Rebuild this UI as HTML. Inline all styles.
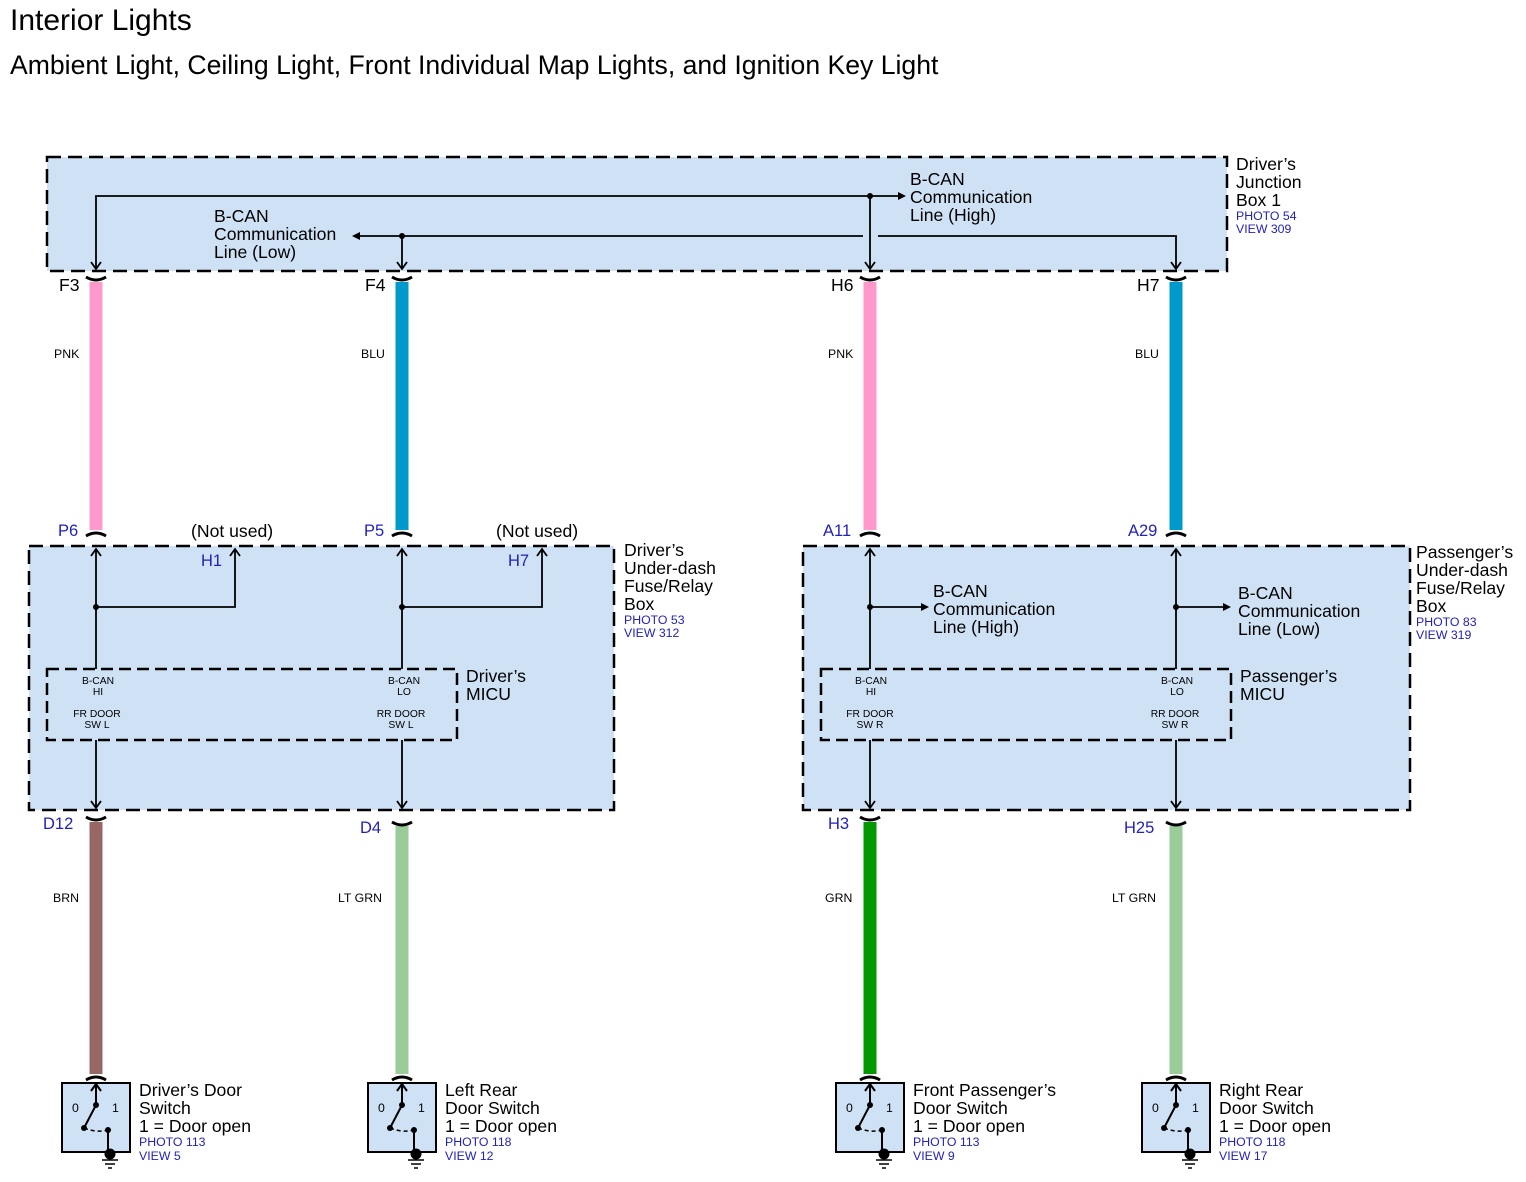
<!DOCTYPE html>
<html><head><meta charset="utf-8"><style>
html,body{margin:0;padding:0;background:#fff;}
svg{display:block;font-family:"Liberation Sans",Arial,sans-serif;}
.t{font-size:17.6px;fill:#000;}
.s{font-size:12.3px;fill:#2222bb;}
.c{font-size:16.5px;fill:#2222bb;}
.w{font-size:12.3px;fill:#000;}
.m{font-size:10.3px;fill:#000;}
</style></head><body>
<svg width="1526" height="1182" viewBox="0 0 1526 1182" xmlns="http://www.w3.org/2000/svg">
<defs>
<g id="sw">
<rect x="-34" y="0" width="68" height="69" fill="#cfe2f5" stroke="#000" stroke-width="2"/>
<line x1="0" y1="22" x2="0" y2="2" stroke="#000" stroke-width="2"/>
<path d="M-5,8 L0,1 L5,8" fill="none" stroke="#000" stroke-width="2"/>
<circle cx="0" cy="22" r="3"/>
<line x1="0" y1="22" x2="-12" y2="45" stroke="#000" stroke-width="2"/>
<circle cx="-12" cy="45" r="3"/>
<path d="M-12,45 Q0,50 12,47" fill="none" stroke="#000" stroke-width="1.5" stroke-dasharray="4,3"/>
<circle cx="12" cy="47" r="3"/>
<line x1="12" y1="47" x2="12" y2="69" stroke="#000" stroke-width="2"/>
<circle cx="14" cy="71" r="5.5"/>
<line x1="6" y1="77" x2="22" y2="77" stroke="#000" stroke-width="1.5"/>
<line x1="9" y1="81" x2="19" y2="81" stroke="#000" stroke-width="1.5"/>
<line x1="12" y1="85" x2="16" y2="85" stroke="#000" stroke-width="1.5"/>
<text x="-24" y="29" class="w" font-size="13">0</text>
<text x="16" y="29" class="w" font-size="13">1</text>
</g>
</defs>

<text x="10" y="30" style="font-size:30px">Interior Lights</text>
<text x="10" y="74" style="font-size:26.6px">Ambient Light, Ceiling Light, Front Individual Map Lights, and Ignition Key Light</text>

<rect x="47" y="157" width="1180" height="114" fill="#cfe2f5" stroke="#000" stroke-width="2.5" stroke-dasharray="14,7"/>
<rect x="29" y="546" width="585" height="264" fill="#cfe2f5" stroke="#000" stroke-width="2.5" stroke-dasharray="14,7"/>
<rect x="803" y="546" width="607" height="264" fill="#cfe2f5" stroke="#000" stroke-width="2.5" stroke-dasharray="14,7"/>
<rect x="47" y="669" width="410" height="71" fill="none" stroke="#000" stroke-width="2.5" stroke-dasharray="12,6"/>
<rect x="821" y="669" width="410" height="71" fill="none" stroke="#000" stroke-width="2.5" stroke-dasharray="12,6"/>

<g stroke-width="13">
<line x1="96" y1="282" x2="96" y2="530" stroke="#ff99cc"/>
<line x1="402" y1="282" x2="402" y2="530" stroke="#0099cc"/>
<line x1="870" y1="282" x2="870" y2="530" stroke="#ff99cc"/>
<line x1="1176" y1="282" x2="1176" y2="530" stroke="#0099cc"/>
<line x1="96" y1="822" x2="96" y2="1074" stroke="#996666"/>
<line x1="402" y1="826" x2="402" y2="1074" stroke="#99cc99"/>
<line x1="870" y1="822" x2="870" y2="1074" stroke="#009900"/>
<line x1="1176" y1="826" x2="1176" y2="1074" stroke="#99cc99"/>
</g>
<g fill="none" stroke="#000" stroke-width="3">
<path d="M86,277 Q96,283 106,277"/><path d="M392,277 Q402,283 412,277"/>
<path d="M860,277 Q870,283 880,277"/><path d="M1166,277 Q1176,283 1186,277"/>
<path d="M86,536 Q96,530 106,536"/><path d="M392,536 Q402,530 412,536"/>
<path d="M860,536 Q870,530 880,536"/><path d="M1166,536 Q1176,530 1186,536"/>
<path d="M86,817 Q96,823 106,817"/><path d="M392,822 Q402,828 412,822"/>
<path d="M860,817 Q870,823 880,817"/><path d="M1166,822 Q1176,828 1186,822"/>
<path d="M86,1080 Q96,1074 106,1080"/><path d="M392,1080 Q402,1074 412,1080"/>
<path d="M860,1080 Q870,1074 880,1080"/><path d="M1166,1080 Q1176,1074 1186,1080"/>
</g>

<g fill="none" stroke="#000" stroke-width="1.8">
<path d="M96,269 V196 H900"/>
<path d="M870,196 V269"/>
<path d="M360,236 H863"/>
<path d="M402,236 V269"/>
<path d="M878,236 H1176 V269"/>
<path d="M96,669 V549"/><path d="M96,607 H235 V549"/>
<path d="M402,669 V549"/><path d="M402,607 H542 V549"/>
<path d="M870,669 V549"/><path d="M870,607 H922"/>
<path d="M1176,669 V549"/><path d="M1176,607 H1224"/>
<path d="M96,740 V808"/><path d="M402,740 V808"/>
<path d="M870,740 V808"/><path d="M1176,740 V808"/>
<path d="M91,262 L96,269 L101,262"/><path d="M397,262 L402,269 L407,262"/>
<path d="M865,262 L870,269 L875,262"/><path d="M1171,262 L1176,269 L1181,262"/>
<path d="M91,556 L96,549 L101,556"/><path d="M230,556 L235,549 L240,556"/>
<path d="M397,556 L402,549 L407,556"/><path d="M537,556 L542,549 L547,556"/>
<path d="M865,556 L870,549 L875,556"/><path d="M1171,556 L1176,549 L1181,556"/>
<path d="M91,801 L96,808 L101,801"/><path d="M397,801 L402,808 L407,801"/>
<path d="M865,801 L870,808 L875,801"/><path d="M1171,801 L1176,808 L1181,801"/>
</g>
<g fill="#000">
<path d="M906,196 L898,192 L898,200Z"/>
<path d="M352,236 L360,232 L360,240Z"/>
<path d="M929,607 L921,603 L921,611Z"/>
<path d="M1231,607 L1223,603 L1223,611Z"/>
<circle cx="870" cy="196" r="3"/><circle cx="402" cy="236" r="3"/>
<circle cx="96" cy="607" r="3"/><circle cx="402" cy="607" r="3"/>
<circle cx="870" cy="607" r="3"/><circle cx="1176" cy="607" r="3"/>
</g>

<text class="t"><tspan x="214" y="222">B-CAN</tspan><tspan x="214" y="240">Communication</tspan><tspan x="214" y="258">Line (Low)</tspan></text>
<text class="t"><tspan x="910" y="185">B-CAN</tspan><tspan x="910" y="203">Communication</tspan><tspan x="910" y="221">Line (High)</tspan></text>
<text class="t"><tspan x="1236" y="170">Driver’s</tspan><tspan x="1236" y="188">Junction</tspan><tspan x="1236" y="206">Box 1</tspan></text>
<text class="s"><tspan x="1236" y="220">PHOTO 54</tspan><tspan x="1236" y="233">VIEW 309</tspan></text>

<text class="t" x="59" y="291">F3</text><text class="t" x="365" y="291">F4</text>
<text class="t" x="831" y="291">H6</text><text class="t" x="1137" y="291">H7</text>
<text class="w" x="54" y="358">PNK</text><text class="w" x="361" y="358">BLU</text>
<text class="w" x="828" y="358">PNK</text><text class="w" x="1135" y="358">BLU</text>

<text class="c" x="58" y="536">P6</text><text class="c" x="364" y="536">P5</text>
<text class="c" x="823" y="536">A11</text><text class="c" x="1128" y="536">A29</text>
<text class="t" x="191" y="537">(Not used)</text><text class="t" x="496" y="537">(Not used)</text>
<text class="c" x="201" y="566">H1</text><text class="c" x="508" y="566">H7</text>

<text class="t"><tspan x="624" y="556">Driver’s</tspan><tspan x="624" y="574">Under-dash</tspan><tspan x="624" y="592">Fuse/Relay</tspan><tspan x="624" y="610">Box</tspan></text>
<text class="s"><tspan x="624" y="624">PHOTO 53</tspan><tspan x="624" y="637">VIEW 312</tspan></text>
<text class="t"><tspan x="1416" y="558">Passenger’s</tspan><tspan x="1416" y="576">Under-dash</tspan><tspan x="1416" y="594">Fuse/Relay</tspan><tspan x="1416" y="612">Box</tspan></text>
<text class="s"><tspan x="1416" y="626">PHOTO 83</tspan><tspan x="1416" y="639">VIEW 319</tspan></text>
<text class="t"><tspan x="466" y="682">Driver’s</tspan><tspan x="466" y="700">MICU</tspan></text>
<text class="t"><tspan x="1240" y="682">Passenger’s</tspan><tspan x="1240" y="700">MICU</tspan></text>
<text class="t"><tspan x="933" y="597">B-CAN</tspan><tspan x="933" y="615">Communication</tspan><tspan x="933" y="633">Line (High)</tspan></text>
<text class="t"><tspan x="1238" y="599">B-CAN</tspan><tspan x="1238" y="617">Communication</tspan><tspan x="1238" y="635">Line (Low)</tspan></text>

<g class="m" text-anchor="middle">
<text x="98" y="684">B-CAN</text><text x="98" y="695">HI</text>
<text x="97" y="717">FR DOOR</text><text x="97" y="728">SW L</text>
<text x="404" y="684">B-CAN</text><text x="404" y="695">LO</text>
<text x="401" y="717">RR DOOR</text><text x="401" y="728">SW L</text>
<text x="871" y="684">B-CAN</text><text x="871" y="695">HI</text>
<text x="870" y="717">FR DOOR</text><text x="870" y="728">SW R</text>
<text x="1177" y="684">B-CAN</text><text x="1177" y="695">LO</text>
<text x="1175" y="717">RR DOOR</text><text x="1175" y="728">SW R</text>
</g>

<text class="c" x="43" y="829">D12</text><text class="c" x="360" y="833">D4</text>
<text class="c" x="828" y="829">H3</text><text class="c" x="1124" y="833">H25</text>
<text class="w" x="53" y="902">BRN</text><text class="w" x="338" y="902">LT GRN</text>
<text class="w" x="825" y="902">GRN</text><text class="w" x="1112" y="902">LT GRN</text>

<use href="#sw" x="96" y="1083"/><use href="#sw" x="402" y="1083"/>
<use href="#sw" x="870" y="1083"/><use href="#sw" x="1176" y="1083"/>

<text class="t"><tspan x="139" y="1096">Driver’s Door</tspan><tspan x="139" y="1114">Switch</tspan><tspan x="139" y="1132">1 = Door open</tspan></text>
<text class="s"><tspan x="139" y="1146">PHOTO 113</tspan><tspan x="139" y="1160">VIEW 5</tspan></text>
<text class="t"><tspan x="445" y="1096">Left Rear</tspan><tspan x="445" y="1114">Door Switch</tspan><tspan x="445" y="1132">1 = Door open</tspan></text>
<text class="s"><tspan x="445" y="1146">PHOTO 118</tspan><tspan x="445" y="1160">VIEW 12</tspan></text>
<text class="t"><tspan x="913" y="1096">Front Passenger’s</tspan><tspan x="913" y="1114">Door Switch</tspan><tspan x="913" y="1132">1 = Door open</tspan></text>
<text class="s"><tspan x="913" y="1146">PHOTO 113</tspan><tspan x="913" y="1160">VIEW 9</tspan></text>
<text class="t"><tspan x="1219" y="1096">Right Rear</tspan><tspan x="1219" y="1114">Door Switch</tspan><tspan x="1219" y="1132">1 = Door open</tspan></text>
<text class="s"><tspan x="1219" y="1146">PHOTO 118</tspan><tspan x="1219" y="1160">VIEW 17</tspan></text>
</svg>
</body></html>
